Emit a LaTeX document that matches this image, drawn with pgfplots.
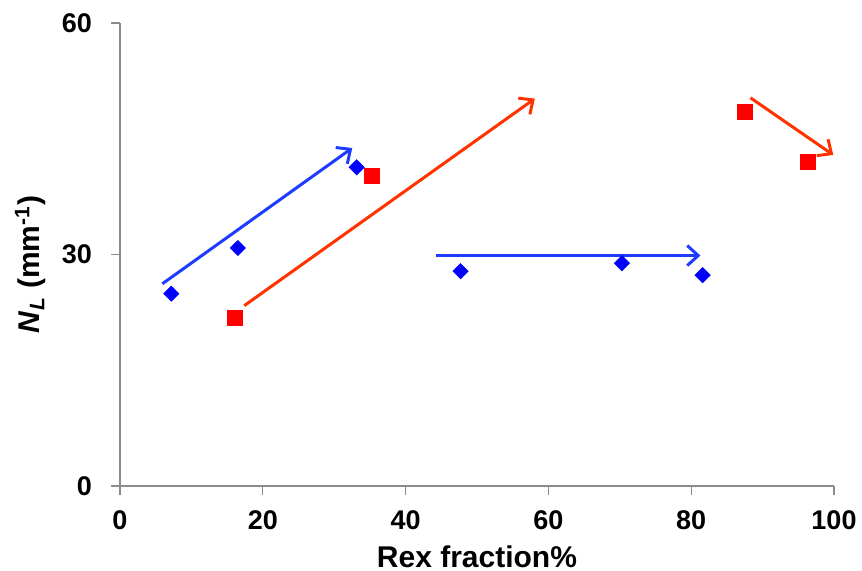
\documentclass[border=0pt]{standalone}
\usepackage{fontspec}
\setmainfont{Liberation Sans}
\usepackage{pgfplots}
\pgfplotsset{compat=1.18}
\usetikzlibrary{arrows.meta}
\definecolor{mblue}{RGB}{0,0,255}
\definecolor{mred}{RGB}{255,0,0}
\definecolor{ablue}{RGB}{30,60,255}
\definecolor{ared}{RGB}{255,50,0}
\begin{document}
\begin{tikzpicture}
\begin{axis}[
  scale only axis,
  width=357pt, height=231.5pt,
  xmin=0, xmax=100, ymin=0, ymax=60,
  axis lines*=left,
  axis line style={draw=gray!90, line width=0.6pt},
  tick style={draw=gray!90, line width=0.6pt},
  tick align=outside,
  major tick length=4.5pt,
  xtick={0,20,40,60,80,100},
  ytick={0,30,60},
  /pgf/number format/assume math mode=true,
  ticklabel style={font=\fontsize{13.5pt}{15pt}\selectfont\bfseries},
  xticklabel style={yshift=-4.5pt},
  yticklabel style={xshift=-6pt},
  label style={font=\fontsize{15pt}{18pt}\selectfont\bfseries},
  xlabel={Rex fraction\%},
  ylabel={\textit{N}\textsubscript{\textit{L}} (mm\textsuperscript{-1})},
  xlabel style={yshift=-1pt},
  ylabel style={yshift=1pt, xshift=-5pt},
  clip=false,
]
\addplot[only marks, mark=square*, mark size=2.65pt, color=mblue, mark options={rotate=45, draw=none, fill=mblue}] coordinates {
 (7.18,24.92) (16.5,30.84) (33.15,41.3) (47.7,27.83) (70.3,28.87) (81.6,27.32)
};
\addplot[only marks, mark=square*, mark size=3.75pt, color=mred, mark options={draw=none, fill=mred}] coordinates {
 (16.06,21.73) (35.34,40.21) (87.5,48.43) (96.3,42.0)
};
\addplot[ablue, line width=1.5pt, -{Straight Barb[length=5.5pt,width=10pt,line width=1.5pt]}] coordinates {(5.93,26.2) (32.53,43.8)};
\addplot[ablue, line width=1.5pt, -{Straight Barb[length=5.5pt,width=10pt,line width=1.5pt]}] coordinates {(44.26,29.86) (81.3,29.86)};
\addplot[ared, line width=1.5pt, -{Straight Barb[length=5.5pt,width=10pt,line width=1.5pt]}] coordinates {(17.41,23.37) (58.1,50.2)};
\addplot[ared, line width=1.5pt, -{Straight Barb[length=5.5pt,width=10pt,line width=1.5pt]}] coordinates {(88.3,50.3) (99.9,42.9)};
\end{axis}
\pgfresetboundingbox
\path ([xshift=-60pt,yshift=-42.5pt]current axis.south west) rectangle ([xshift=14pt,yshift=11.5pt]current axis.north east);
\end{tikzpicture}
\end{document}
